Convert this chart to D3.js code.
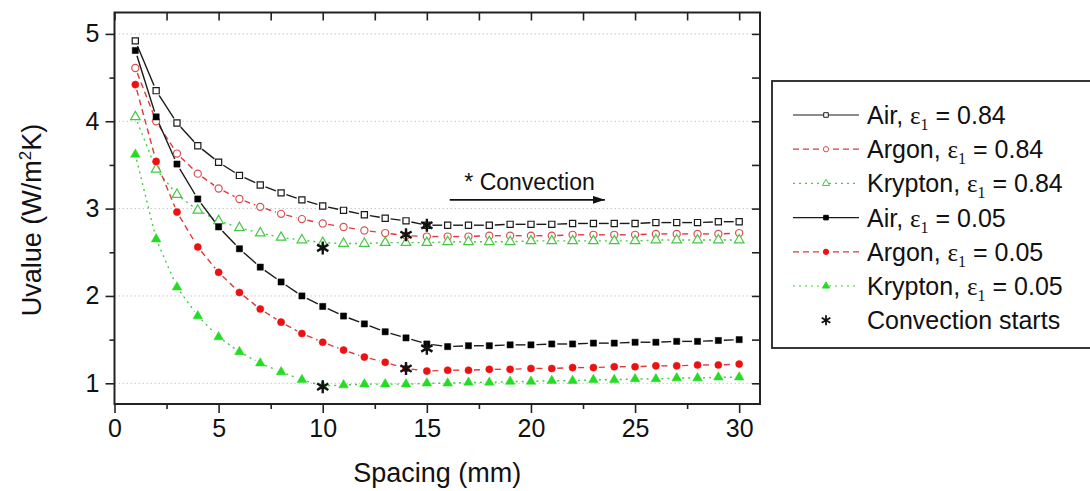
<!DOCTYPE html>
<html>
<head>
<meta charset="utf-8">
<script src="https://cdn.jsdelivr.net/npm/d3@7"></script>
<style>
  body { margin: 0; background: #fff; }
  svg { display: block; font-family: "Liberation Sans", Arial, sans-serif; }
</style>
</head>
<body>
<div id="viewer"></div>
<script>
// values
const spacing = [1, 2, 3, 4, 5, 6, 7, 8, 9, 10, 11, 12, 13, 14, 15,
                 16, 17, 18, 19, 20, 21, 22, 23, 24, 25, 26, 27, 28, 29, 30];

const airHigh = [4.92, 4.35, 3.98, 3.72, 3.53, 3.38, 3.27, 3.18, 3.10, 3.03, 2.98, 2.93, 2.89, 2.86, 2.81,
                 2.81, 2.81, 2.81, 2.82, 2.82, 2.82, 2.83, 2.83, 2.83, 2.83, 2.84, 2.84, 2.84, 2.85, 2.85];
const argonHigh = [4.61, 4.00, 3.63, 3.40, 3.23, 3.11, 3.02, 2.94, 2.88, 2.83, 2.79, 2.75, 2.72, 2.69, 2.68,
                   2.68, 2.68, 2.69, 2.69, 2.69, 2.69, 2.70, 2.70, 2.70, 2.70, 2.71, 2.71, 2.71, 2.71, 2.72];
const kryptonHigh = [4.05, 3.45, 3.16, 2.98, 2.86, 2.78, 2.72, 2.67, 2.64, 2.61, 2.60, 2.60, 2.61, 2.61, 2.61,
                     2.62, 2.62, 2.62, 2.62, 2.63, 2.63, 2.63, 2.63, 2.63, 2.63, 2.64, 2.64, 2.64, 2.64, 2.64];
const airLow = [4.81, 4.05, 3.51, 3.11, 2.79, 2.54, 2.33, 2.16, 2.00, 1.88, 1.77, 1.68, 1.59, 1.52, 1.45,
                1.42, 1.43, 1.43, 1.44, 1.44, 1.45, 1.45, 1.46, 1.46, 1.47, 1.47, 1.48, 1.48, 1.49, 1.50];
const argonLow = [4.42, 3.54, 2.96, 2.56, 2.27, 2.04, 1.85, 1.70, 1.57, 1.47, 1.38, 1.30, 1.24, 1.17, 1.14,
                  1.15, 1.15, 1.16, 1.16, 1.17, 1.17, 1.18, 1.18, 1.19, 1.19, 1.20, 1.20, 1.21, 1.21, 1.22];
const kryptonLow = [3.62, 2.65, 2.10, 1.77, 1.53, 1.36, 1.23, 1.13, 1.04, 0.97, 0.98, 0.99, 0.99, 0.99, 1.00,
                    1.00, 1.01, 1.01, 1.02, 1.02, 1.03, 1.03, 1.04, 1.04, 1.05, 1.05, 1.06, 1.06, 1.07, 1.07];

// convection start markers
const convX = [10, 14, 15, 10, 14, 15];
const convY = [2.55, 2.70, 2.81, 0.96, 1.17, 1.40];

const xTicks = [0, 5, 10, 15, 20, 25, 30];
const yTicks = [1, 2, 3, 4, 5];

const series = [
    { gas: "Air",     eps: "0.84", values: airHigh,     line: "#1a1a1a", mark: "#1a1a1a", dash: null,  shape: d3.symbolSquare,   filled: false },
    { gas: "Argon",   eps: "0.84", values: argonHigh,   line: "#d83c3c", mark: "#d65050", dash: "6,4", shape: d3.symbolCircle,   filled: false },
    { gas: "Krypton", eps: "0.84", values: kryptonHigh, line: "#44cc44", mark: "#44c844", dash: "2,4", shape: d3.symbolTriangle, filled: false },
    { gas: "Air",     eps: "0.05", values: airLow,      line: "#1a1a1a", mark: "#000000", dash: null,  shape: d3.symbolSquare,   filled: true },
    { gas: "Argon",   eps: "0.05", values: argonLow,    line: "#d83c3c", mark: "#ee1111", dash: "6,4", shape: d3.symbolCircle,   filled: true },
    { gas: "Krypton", eps: "0.05", values: kryptonLow,  line: "#44cc44", mark: "#22dd22", dash: "2,4", shape: d3.symbolTriangle, filled: true }
];

const width = 1090;
const height = 491;
const plot = { left: 114.5, top: 12.5, right: 760, bottom: 404 };

const svg = d3.select("#viewer")
    .append("svg")
    .attr("width", width)
    .attr("height", height);

const xScale = d3.scaleLinear()
    .domain([0, 31])
    .range([plot.left, plot.right]);

const yScale = d3.scaleLinear()
    .domain([0.763, 5.245])
    .range([plot.bottom, plot.top]);

// dotted grid
svg.append("g")
    .selectAll("line")
    .data(yTicks)
    .enter()
    .append("line")
    .attr("x1", plot.left)
    .attr("x2", plot.right)
    .attr("y1", d => yScale(d))
    .attr("y2", d => yScale(d))
    .attr("stroke", "#c8c8c8")
    .attr("stroke-width", 1)
    .attr("stroke-dasharray", "1.5,2.5");

// axes: bottom/left outward, top/right inward
const xMinor = d3.range(0, 31, 2.5);
const yMinor = d3.range(1, 5.01, 0.5);

const bottomAxis = d3.axisBottom(xScale).tickValues(xTicks).tickSize(9).tickPadding(6).tickFormat(d3.format("d"));
const bottomMinor = d3.axisBottom(xScale).tickValues(xMinor.filter(v => v % 5 !== 0)).tickSize(5).tickFormat("");
const leftAxis = d3.axisLeft(yScale).tickValues(yTicks).tickSize(9).tickPadding(6).tickFormat(d3.format("d"));
const leftMinor = d3.axisLeft(yScale).tickValues(yMinor.filter(v => v % 1 !== 0)).tickSize(5).tickFormat("");
const topAxis = d3.axisBottom(xScale).tickValues(xMinor).tickSize(8).tickFormat("");
const rightAxis = d3.axisLeft(yScale).tickValues(yMinor).tickSize(8).tickFormat("");

function styleAxis(g) {
    g.select(".domain").remove();
    g.selectAll(".tick line").attr("stroke", "#222").attr("stroke-width", 1.6);
    g.selectAll(".tick text")
        .attr("fill", "#111")
        .style("font-size", "25px")
        .style("font-family", "Liberation Sans, Arial, sans-serif");
}

svg.append("g").attr("transform", `translate(0,${plot.bottom})`).call(bottomAxis).call(styleAxis);
svg.append("g").attr("transform", `translate(0,${plot.bottom})`).call(bottomMinor).call(styleAxis);
svg.append("g").attr("transform", `translate(${plot.left},0)`).call(leftAxis).call(styleAxis);
svg.append("g").attr("transform", `translate(${plot.left},0)`).call(leftMinor).call(styleAxis);
svg.append("g").attr("transform", `translate(0,${plot.top})`).call(topAxis).call(styleAxis);
svg.append("g").attr("transform", `translate(${plot.right},0)`).call(rightAxis).call(styleAxis);

// frame
svg.append("rect")
    .attr("x", plot.left)
    .attr("y", plot.top)
    .attr("width", plot.right - plot.left)
    .attr("height", plot.bottom - plot.top)
    .attr("fill", "none")
    .attr("stroke", "#222")
    .attr("stroke-width", 2);

// axis titles
svg.append("text")
    .attr("x", (plot.left + plot.right) / 2)
    .attr("y", 482)
    .attr("text-anchor", "middle")
    .style("font-size", "27px")
    .attr("fill", "#111")
    .text("Spacing (mm)");

const yTitle = svg.append("text")
    .attr("transform", "translate(41,220) rotate(-90)")
    .attr("text-anchor", "middle")
    .style("font-size", "27px")
    .attr("fill", "#111");
yTitle.append("tspan").text("Uvalue (W/m");
yTitle.append("tspan").attr("dy", -10).style("font-size", "17px").text("2");
yTitle.append("tspan").attr("dy", 10).text("K)");

// lines drawn as segments with a small gap around each marker
const gap = 5.5;
series.forEach(s => {
    const pts = s.values.map((v, i) => [xScale(spacing[i]), yScale(v)]);
    const segs = [];
    for (let i = 0; i < pts.length - 1; i++) {
        const [x1, y1] = pts[i];
        const [x2, y2] = pts[i + 1];
        const len = Math.hypot(x2 - x1, y2 - y1);
        if (len <= gap * 2) continue;
        const ux = (x2 - x1) / len, uy = (y2 - y1) / len;
        segs.push([x1 + ux * gap, y1 + uy * gap, x2 - ux * gap, y2 - uy * gap]);
    }
    svg.append("g")
        .selectAll("line")
        .data(segs)
        .enter()
        .append("line")
        .attr("x1", d => d[0])
        .attr("y1", d => d[1])
        .attr("x2", d => d[2])
        .attr("y2", d => d[3])
        .attr("stroke", s.line)
        .attr("stroke-width", 1.4)
        .attr("stroke-dasharray", s.dash);
});

// markers
function symbolSize(shape) {
    if (shape === d3.symbolTriangle) return 40;
    if (shape === d3.symbolCircle) return 40;
    return 38;
}

series.forEach(s => {
    svg.append("g")
        .selectAll("path")
        .data(s.values)
        .enter()
        .append("path")
        .attr("transform", (d, i) => `translate(${xScale(spacing[i])},${yScale(d)})`)
        .attr("d", d3.symbol().type(s.shape).size(symbolSize(s.shape)))
        .attr("fill", s.filled ? s.mark : "#fff")
        .attr("stroke", s.mark)
        .attr("stroke-width", s.filled ? 0.5 : 1.2);
});

// six-arm asterisk for convection start
function starPath(r) {
    const p = d3.path();
    [90, 30, 150].forEach(deg => {
        const a = deg * Math.PI / 180;
        p.moveTo(Math.cos(a) * r, Math.sin(a) * r);
        p.lineTo(-Math.cos(a) * r, -Math.sin(a) * r);
    });
    return p.toString();
}

svg.append("g")
    .selectAll("path")
    .data(convX.map((x, i) => ({ x: x, y: convY[i] })))
    .enter()
    .append("path")
    .attr("transform", d => `translate(${xScale(d.x)},${yScale(d.y)})`)
    .attr("d", starPath(6.5))
    .attr("stroke", "#111")
    .attr("stroke-width", 2.4)
    .attr("fill", "none");

// "* Convection" annotation with arrow
svg.append("defs")
    .append("marker")
    .attr("id", "arrow")
    .attr("viewBox", "0 0 12 8")
    .attr("refX", 12)
    .attr("refY", 4)
    .attr("markerWidth", 12)
    .attr("markerHeight", 8)
    .attr("markerUnits", "userSpaceOnUse")
    .attr("orient", "auto")
    .append("path")
    .attr("d", "M0,0 L12,4 L0,8 Z")
    .attr("fill", "#111");

svg.append("line")
    .attr("x1", xScale(16.1))
    .attr("x2", xScale(23.55))
    .attr("y1", yScale(3.10))
    .attr("y2", yScale(3.10))
    .attr("stroke", "#111")
    .attr("stroke-width", 1.8)
    .attr("marker-end", "url(#arrow)");

svg.append("text")
    .attr("x", xScale(16.8))
    .attr("y", yScale(3.21))
    .style("font-size", "23px")
    .attr("fill", "#111")
    .text("* Convection");

// legend
const legend = svg.append("g");
legend.append("rect")
    .attr("x", 772)
    .attr("y", 81)
    .attr("width", 330)
    .attr("height", 267)
    .attr("fill", "#fff")
    .attr("stroke", "#222")
    .attr("stroke-width", 1.8);

const rowY = i => 115 + i * 34.2;

series.forEach((s, i) => {
    const y = rowY(i);
    legend.append("line")
        .attr("x1", 793)
        .attr("x2", 859)
        .attr("y1", y)
        .attr("y2", y)
        .attr("stroke", s.line)
        .attr("stroke-width", 1.2)
        .attr("stroke-dasharray", s.dash);
    legend.append("path")
        .attr("transform", `translate(826,${y})`)
        .attr("d", d3.symbol().type(s.shape).size(symbolSize(s.shape) * 0.55))
        .attr("fill", s.filled ? s.mark : "#fff")
        .attr("stroke", s.mark)
        .attr("stroke-width", 1);
    const t = legend.append("text")
        .attr("x", 867)
        .attr("y", y + 9)
        .style("font-size", "25px")
        .attr("fill", "#111");
    t.append("tspan").text(`${s.gas}, `);
    t.append("tspan").style("font-family", "Liberation Serif, serif").text("\u03b5");
    t.append("tspan").attr("dy", 6).style("font-family", "Liberation Serif, serif").style("font-size", "16px").text("1");
    t.append("tspan").attr("dy", -6).text(` = ${s.eps}`);
});

legend.append("path")
    .attr("transform", `translate(826,${rowY(6)})`)
    .attr("d", starPath(5))
    .attr("stroke", "#111")
    .attr("stroke-width", 1.8)
    .attr("fill", "none");

legend.append("text")
    .attr("x", 867)
    .attr("y", rowY(6) + 9)
    .style("font-size", "25px")
    .attr("fill", "#111")
    .text("Convection starts");
</script>
</body>
</html>
